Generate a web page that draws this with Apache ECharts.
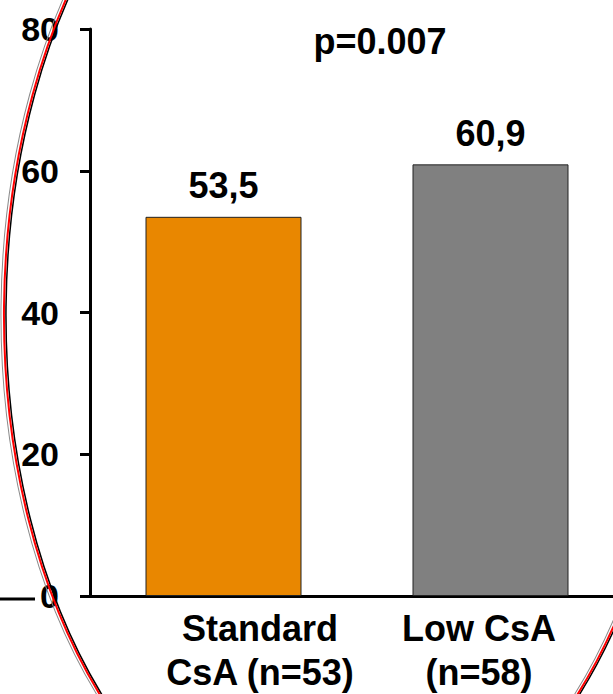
<!DOCTYPE html>
<html>
<head>
<meta charset="utf-8">
<script src="https://cdn.jsdelivr.net/npm/echarts@6/dist/echarts.min.js"></script>
<style>
  html, body { margin: 0; padding: 0; background: #fff; overflow: hidden; }
  #chart { width: 640px; height: 694px; }
</style>
</head>
<body>
<div id="chart"></div>
<script>
// ---- data ----
const categories = ['Standard\nCsA (n=53)', 'Low CsA\n(n=58)'];
const values = [53.5, 60.9];
const yTickValues = [0, 20, 40, 60, 80];
const pValueText = 'p=0.007';

const FONT = '"Liberation Sans", Arial, sans-serif';
const barColors = ['#E98700', '#808080'];
const labelPads = [[0, 0, 0, 73], [0, 23, 0, 0]];

const chart = echarts.init(document.getElementById('chart'), null, { renderer: 'svg' });

function ellipse(dx, color, width) {
  return {
    type: 'ellipse',
    x: 341 + dx, y: 310,
    rotation: -0.01,
    shape: { cx: 0, cy: 0, rx: 337, ry: 545 },
    style: { fill: 'none', stroke: color, lineWidth: width },
    z: 100, silent: true
  };
}

const option = {
  animation: false,
  backgroundColor: '#fff',
  grid: { left: 90, top: 29, width: 534, height: 570, containLabel: false },
  xAxis: {
    type: 'category',
    data: categories.map((c, i) => ({
      value: c,
      textStyle: { padding: labelPads[i] }
    })),
    axisLine: { show: true, lineStyle: { color: '#000', width: 3 } },
    axisTick: { show: false },
    axisLabel: {
      color: '#000', fontFamily: FONT, fontWeight: 'bold', fontSize: 36,
      lineHeight: 44, margin: 10, interval: 0
    }
  },
  yAxis: {
    type: 'value',
    min: yTickValues[0], max: yTickValues[yTickValues.length - 1], interval: 20,
    axisLine: { show: true, lineStyle: { color: '#000', width: 3 } },
    axisTick: { show: true, inside: false, length: 10, lineStyle: { color: '#000', width: 3 } },
    splitLine: { show: false },
    axisLabel: {
      color: '#000', fontFamily: FONT, fontWeight: 'bold', fontSize: 34, margin: 31
    }
  },
  series: [{
    type: 'bar',
    data: values.map((v, i) => ({ value: v, itemStyle: { color: barColors[i] } })),
    barWidth: 156,
    itemStyle: { borderColor: '#222', borderWidth: 1 },
    label: {
      show: true, position: 'top', distance: 13,
      color: '#000', fontFamily: FONT, fontWeight: 'bold', fontSize: 36,
      formatter: p => String(p.value).replace('.', ',')
    }
  }],
  graphic: [
    {
      type: 'line', shape: { x1: 0, y1: 599, x2: 35, y2: 599 },
      style: { stroke: '#000', lineWidth: 3 }, z: 50, silent: true
    },
    {
      type: 'text', x: 380, y: 41,
      style: {
        text: pValueText, fill: '#000', font: 'bold 36px ' + FONT,
        textAlign: 'center', textVerticalAlign: 'middle'
      },
      z: 60
    },
    ellipse(-3, '#8a8a8a', 1),
    ellipse(2, '#000', 1.5),
    ellipse(0, '#ff0000', 2)
  ]
};
chart.setOption(option);
</script>
</body>
</html>
